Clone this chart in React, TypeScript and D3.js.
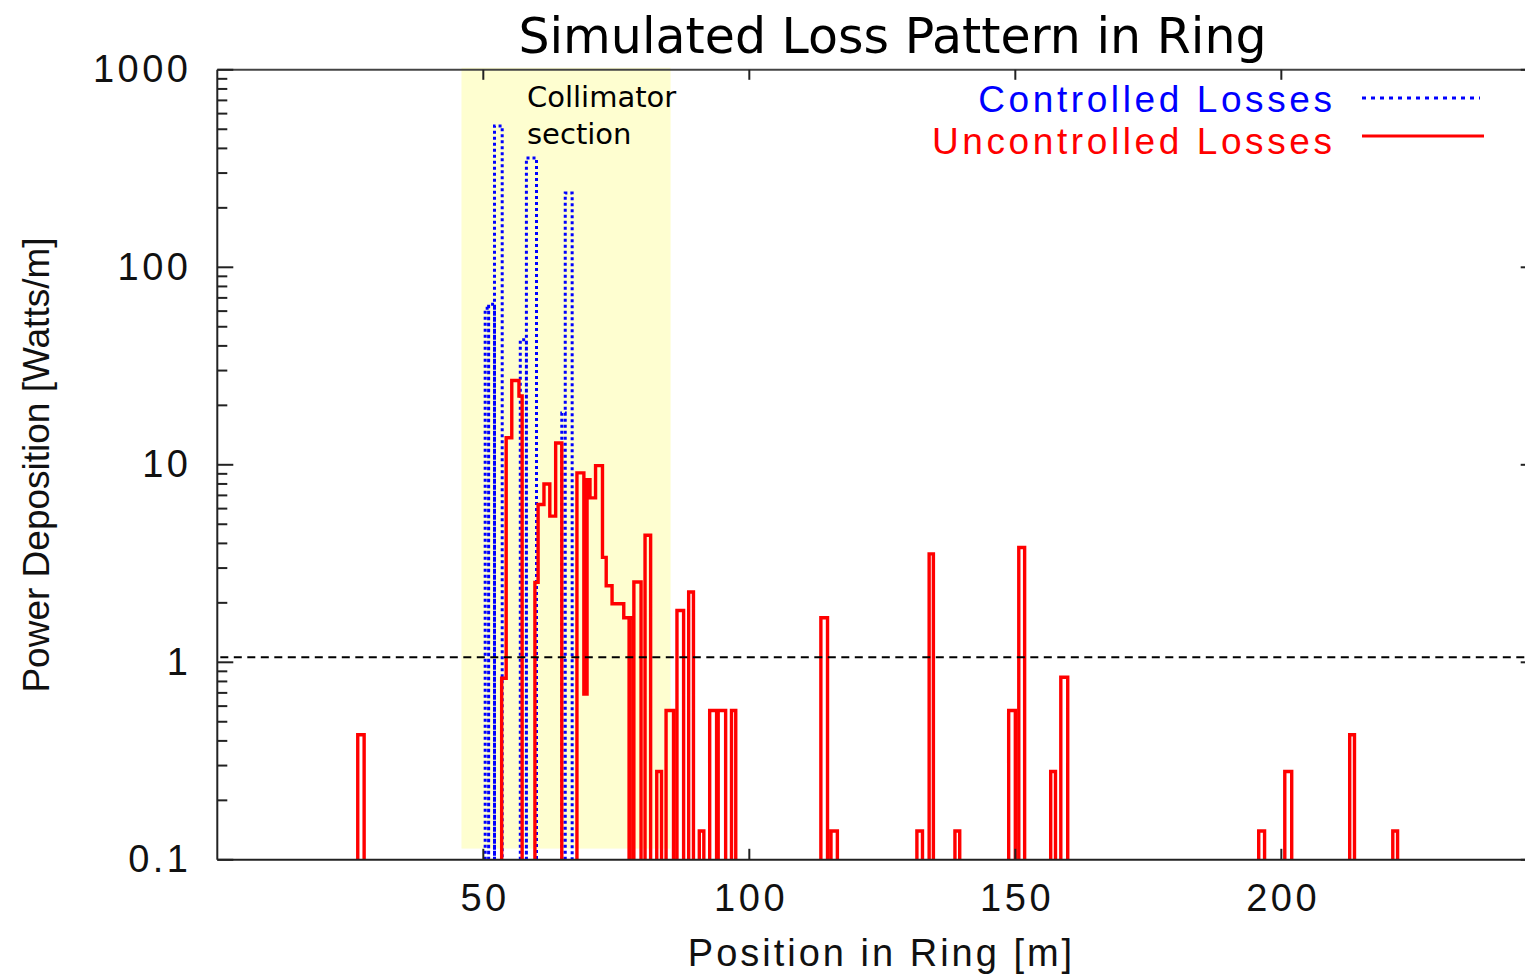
import React from "react";
import * as d3 from "d3";

const WIDTH = 1525;
const HEIGHT = 976;

// Axis ticks
const xTickValues = [50, 100, 150, 200];
const yTickValues = [0.1, 1, 10, 100, 1000];
const yTickLabels = ["0.1", "1", "10", "100", "1000"];

// Histogram bins: [start position (m), end position (m), power (W/m)]
const controlledBins: [number, number, number][] = [
  [50.35, 51.0, 62],
  [51.0, 52.1, 65],
  [52.1, 53.55, 520],
  [56.95, 58.1, 43],
  [58.1, 60.0, 358],
  [64.75, 65.4, 18.3],
  [65.4, 66.7, 238],
];

const uncontrolledBins: [number, number, number][] = [
  [26.4, 27.6, 0.43],
  [53.45, 54.3, 0.83],
  [54.3, 55.35, 13.7],
  [55.35, 56.7, 26.7],
  [56.7, 57.3, 22.3],
  [59.7, 60.3, 2.54],
  [60.3, 61.4, 6.3],
  [61.4, 62.5, 8.0],
  [62.5, 63.6, 5.5],
  [63.6, 64.75, 12.9],
  [67.6, 68.9, 9.1],
  [68.9, 69.5, 0.69],
  [69.5, 70.05, 8.4],
  [70.05, 71.1, 6.8],
  [71.1, 72.4, 9.9],
  [72.4, 73.1, 3.4],
  [73.1, 74.2, 2.44],
  [74.2, 76.4, 1.98],
  [76.4, 77.4, 1.68],
  [77.5, 78.15, 1.68],
  [78.3, 79.65, 2.55],
  [80.4, 81.45, 4.4],
  [82.6, 83.5, 0.28],
  [84.35, 85.75, 0.57],
  [86.4, 87.65, 1.83],
  [88.6, 89.5, 2.27],
  [90.6, 91.45, 0.14],
  [92.55, 93.85, 0.57],
  [94.15, 95.55, 0.57],
  [96.65, 97.45, 0.57],
  [113.45, 114.7, 1.68],
  [115.35, 116.55, 0.14],
  [131.5, 132.55, 0.14],
  [133.8, 134.6, 3.54],
  [138.65, 139.55, 0.14],
  [148.75, 150.0, 0.57],
  [150.65, 151.75, 3.81],
  [156.65, 157.55, 0.28],
  [158.55, 159.85, 0.84],
  [195.75, 196.85, 0.14],
  [200.65, 201.95, 0.28],
  [212.85, 213.75, 0.43],
  [220.95, 221.85, 0.14],
];

// Collimator section extent (m) and the power threshold line (W/m)
const collimatorRange = [45.9, 85.2];
const collimatorFloor = 0.114;
const thresholdPower = 1.06;

const legendEntries = [
  { label: "Controlled Losses", color: "#0000ff", dash: "4 5", textY: 112, lineY: 98, lineEnd: 1480 },
  { label: "Uncontrolled Losses", color: "#ff0000", dash: null, textY: 153.5, lineY: 136, lineEnd: 1484 },
];

const plot = { left: 217.3, right: 1536.7, top: 69.8, bottom: 859.8 };

const x = d3.scaleLinear().domain([0, 248]).range([plot.left, plot.right]);
const y = d3.scaleLog().domain([0.1, 1000]).range([plot.bottom, plot.top]);

// Split bins into runs; joined runs are drawn as one step outline,
// otherwise every bin gets its own outline down to the baseline
function toRuns(bins: [number, number, number][], join: boolean) {
  const runs: [number, number, number][][] = [];
  for (const b of bins) {
    const last = runs[runs.length - 1];
    if (join && last && Math.abs(last[last.length - 1][1] - b[0]) < 1e-9) last.push(b);
    else runs.push([b]);
  }
  return runs;
}

function stepPath(bins: [number, number, number][], join: boolean) {
  const base = plot.bottom + 6;
  return toRuns(bins, join)
    .map((run) => {
      let d = `M${x(run[0][0])},${base}`;
      for (const [, e, v] of run) d += `V${y(v)}H${x(e)}`;
      return d + `V${base}`;
    })
    .join("");
}

const labelFont = "'Liberation Sans', Arial, Helvetica, sans-serif";
const handFont = "'DejaVu Sans', Verdana, sans-serif";

export default function App() {
  const minorTicks = d3
    .range(-1, 3)
    .flatMap((p) => d3.range(2, 10).map((k) => k * Math.pow(10, p)));

  return (
    <svg
      width={WIDTH}
      height={HEIGHT}
      style={{ position: "absolute", left: 0, top: 0, background: "#fff" }}
    >
      <defs>
        <clipPath id="plotClip">
          <rect
            x={plot.left}
            y={plot.top - 2}
            width={plot.right - plot.left}
            height={plot.bottom - plot.top + 2}
          />
        </clipPath>
      </defs>
      <rect width={WIDTH} height={HEIGHT} fill="#fff" />

      {/* collimator section shading */}
      <rect
        x={x(collimatorRange[0])}
        y={plot.top - 2}
        width={x(collimatorRange[1]) - x(collimatorRange[0])}
        height={y(collimatorFloor) - plot.top + 2}
        fill="#fefed0"
      />

      <g clipPath="url(#plotClip)">
        <path
          d={stepPath(controlledBins, false)}
          fill="none"
          stroke="#0000ff"
          strokeWidth={3}
          strokeDasharray="3 3"
        />
        <path
          d={stepPath(uncontrolledBins, true)}
          fill="none"
          stroke="#ff0000"
          strokeWidth={3.4}
          strokeLinejoin="miter"
        />
        <line
          x1={plot.left + 3}
          x2={plot.right}
          y1={y(thresholdPower)}
          y2={y(thresholdPower)}
          stroke="#000"
          strokeWidth={2}
          strokeDasharray="8 5.5"
        />
      </g>

      {/* collimator label */}
      <text x={527} y={107} fontFamily={handFont} fontSize={29} fill="#000">
        <tspan x={527}>Collimator</tspan>
        <tspan x={527} dy={37}>section</tspan>
      </text>

      {/* frame */}
      <g stroke="#222" strokeWidth={2} fill="none">
        <line x1={plot.left} x2={plot.right} y1={plot.bottom} y2={plot.bottom} />
        <line x1={plot.left} x2={plot.right} y1={plot.top} y2={plot.top} stroke="#444" />
        <line x1={plot.left} x2={plot.left} y1={plot.top} y2={plot.bottom} />
        <line x1={plot.right} x2={plot.right} y1={plot.top} y2={plot.bottom} />
      </g>

      {/* ticks */}
      <g stroke="#222" strokeWidth={2}>
        {yTickValues.map((v) => (
          <g key={`M${v}`}>
            <line x1={plot.left} x2={plot.left + 16} y1={y(v)} y2={y(v)} />
            <line x1={plot.right} x2={plot.right - 16} y1={y(v)} y2={y(v)} />
          </g>
        ))}
        {minorTicks.map((v) => (
          <g key={`m${v}`}>
            <line x1={plot.left} x2={plot.left + 10} y1={y(v)} y2={y(v)} />
            <line x1={plot.right} x2={plot.right - 10} y1={y(v)} y2={y(v)} />
          </g>
        ))}
        {xTickValues.map((v) => (
          <g key={`x${v}`}>
            <line x1={x(v)} x2={x(v)} y1={plot.bottom} y2={plot.bottom - 11} />
            <line x1={x(v)} x2={x(v)} y1={plot.top} y2={plot.top + 10} />
          </g>
        ))}
      </g>

      {/* tick labels */}
      <g fontFamily={labelFont} fontSize={38} fill="#111" letterSpacing={3.5}>
        {yTickValues.map((v, i) => (
          <text key={v} x={191.5} y={y(v) + 12.5} textAnchor="end">
            {yTickLabels[i]}
          </text>
        ))}
        {xTickValues.map((v) => (
          <text key={v} x={x(v) + 1.75} y={911} textAnchor="middle">
            {v}
          </text>
        ))}
      </g>

      {/* axis titles */}
      <text
        x={881.5}
        y={966}
        textAnchor="middle"
        fontFamily={labelFont}
        fontSize={38}
        letterSpacing={3}
        fill="#111"
      >
        Position in Ring [m]
      </text>
      <text
        transform="translate(49,465) rotate(-90)"
        textAnchor="middle"
        fontFamily={labelFont}
        fontSize={37}
        fill="#111"
      >
        Power Deposition [Watts/m]
      </text>

      {/* title */}
      <text
        x={892.5}
        y={53}
        textAnchor="middle"
        fontFamily={handFont}
        fontSize={49}
        fill="#000"
      >
        Simulated Loss Pattern in Ring
      </text>

      {/* legend */}
      {legendEntries.map((e) => (
        <g key={e.label}>
          <text
            x={1335.6}
            y={e.textY}
            textAnchor="end"
            fontFamily={labelFont}
            fontSize={37}
            letterSpacing={3.6}
            fill={e.color}
          >
            {e.label}
          </text>
          <line
            x1={1362}
            x2={e.lineEnd}
            y1={e.lineY}
            y2={e.lineY}
            stroke={e.color}
            strokeWidth={3}
            strokeDasharray={e.dash ?? undefined}
          />
        </g>
      ))}
    </svg>
  );
}
